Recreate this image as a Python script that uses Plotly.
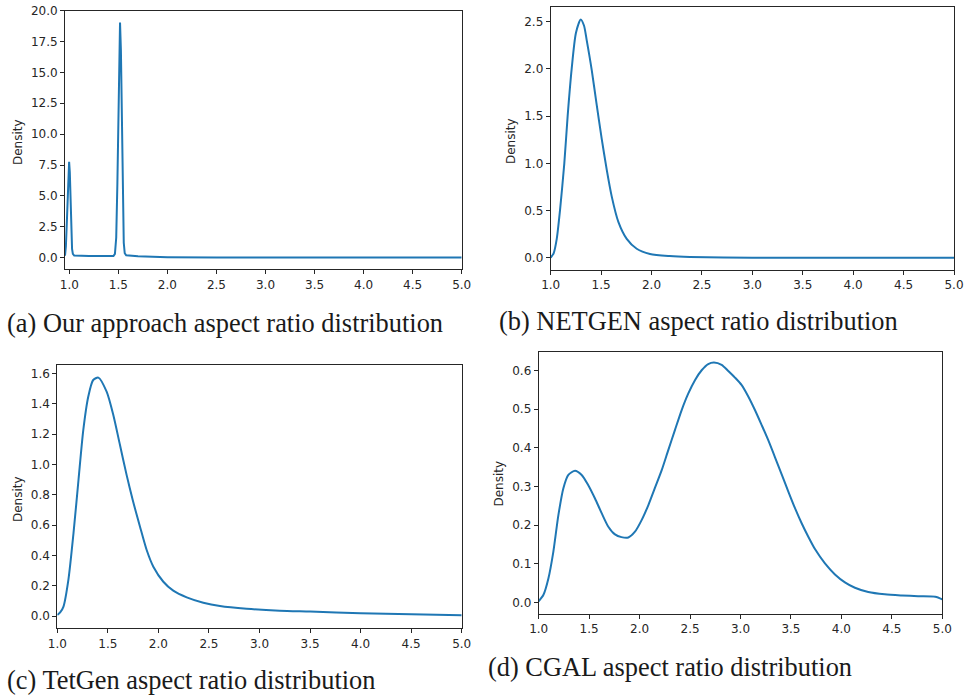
import plotly.graph_objects as go

W, H = 964, 696

# ---------------- data ----------------
a_x = [0.956, 0.965, 0.975, 0.985, 0.992, 0.998, 1.005, 1.012, 1.02, 1.028, 1.036, 1.05,
       1.2, 1.35, 1.45, 1.465, 1.478, 1.49, 1.5, 1.508, 1.517, 1.526, 1.535, 1.545, 1.555,
       1.565, 1.58, 1.7, 1.85, 2.0, 2.5, 3.0, 4.0, 5.0]
a_y = [0.15, 0.9, 2.9, 5.8, 7.2, 7.75, 6.9, 4.6, 2.0, 0.7, 0.3, 0.16,
       0.13, 0.11, 0.12, 0.3, 1.6, 6.0, 11.5, 16.5, 19.05, 16.8, 11.0, 4.8, 1.2,
       0.35, 0.18, 0.1, 0.06, 0.035, 0.012, 0.005, 0.001, 0.0]

b_x = [1.0, 1.03, 1.06, 1.092, 1.135, 1.168, 1.208, 1.25, 1.2975, 1.33, 1.357, 1.407, 1.452,
       1.506, 1.556, 1.605, 1.671, 1.754, 1.853, 1.985, 2.18, 2.38, 3.0, 4.0, 5.0]
b_y = [0.0, 0.05, 0.2, 0.5, 1.0, 1.5, 2.0, 2.38, 2.525, 2.46, 2.306, 1.988, 1.65,
       1.26, 0.93, 0.65, 0.38, 0.2, 0.095, 0.04, 0.018, 0.008, 0.0, 0.0, 0.0]

c_x = [1.0, 1.03, 1.06, 1.11, 1.16, 1.21, 1.257, 1.306, 1.355, 1.406, 1.488, 1.554, 1.62,
       1.686, 1.746, 1.818, 1.884, 1.95, 2.049, 2.147, 2.28, 2.444, 2.609, 2.873, 3.2, 3.5,
       4.0, 4.5, 5.0]
c_y = [0.007, 0.025, 0.06, 0.24, 0.545, 0.9, 1.226, 1.446, 1.556, 1.572, 1.479, 1.325, 1.127,
       0.929, 0.765, 0.589, 0.435, 0.325, 0.226, 0.167, 0.123, 0.088, 0.066, 0.048, 0.035, 0.029,
       0.018, 0.011, 0.005]

d_x = [1.0, 1.046, 1.096, 1.145, 1.195, 1.244, 1.294, 1.36, 1.426, 1.49, 1.558, 1.624, 1.69,
       1.756, 1.82, 1.888, 1.954, 2.02, 2.087, 2.15, 2.22, 2.285, 2.35, 2.417, 2.483, 2.55,
       2.615, 2.68, 2.737, 2.813, 2.879, 2.945, 3.01, 3.077, 3.143, 3.21, 3.275, 3.34, 3.41,
       3.474, 3.54, 3.606, 3.672, 3.738, 3.837, 3.936, 4.035, 4.134, 4.266, 4.43, 4.6, 4.76,
       4.93, 5.0]
d_y = [0.003, 0.019, 0.062, 0.131, 0.226, 0.295, 0.33, 0.341, 0.33, 0.304, 0.269, 0.231, 0.196,
       0.176, 0.169, 0.168, 0.183, 0.213, 0.252, 0.295, 0.343, 0.395, 0.446, 0.498, 0.541, 0.576,
       0.601, 0.617, 0.621, 0.615, 0.599, 0.582, 0.563, 0.533, 0.498, 0.459, 0.42, 0.377, 0.33,
       0.287, 0.244, 0.205, 0.17, 0.138, 0.101, 0.0725, 0.052, 0.038, 0.027, 0.021, 0.018, 0.016,
       0.0147, 0.008]

x_ticks = [1.0, 1.5, 2.0, 2.5, 3.0, 3.5, 4.0, 4.5, 5.0]
a_yticks = [0.0, 2.5, 5.0, 7.5, 10.0, 12.5, 15.0, 17.5, 20.0]
b_yticks = [0.0, 0.5, 1.0, 1.5, 2.0, 2.5]
c_yticks = [0.0, 0.2, 0.4, 0.6, 0.8, 1.0, 1.2, 1.4, 1.6]
d_yticks = [0.0, 0.1, 0.2, 0.3, 0.4, 0.5, 0.6]

captions = ["(a) Our approach aspect ratio distribution",
            "(b) NETGEN aspect ratio distribution",
            "(c) TetGen aspect ratio distribution",
            "(d) CGAL aspect ratio distribution"]
y_label = "Density"

# ---------------- layout geometry (pixels) ----------------
panels = [
    # left, right, top, bottom, xrange, yrange
    (65.0, 461.7, 10.7, 269.3, [0.956, 5.0], [-0.95, 20.0]),
    (550.7, 954.0, 7.3, 270.0, [1.0, 5.0], [-0.13, 2.653]),
    (57.3, 461.7, 365.0, 628.3, [1.0, 5.0], [-0.081, 1.655]),
    (538.7, 942.3, 351.7, 614.0, [1.0, 5.0], [-0.030, 0.649]),
]
series = [(a_x, a_y, a_yticks, "linear"), (b_x, b_y, b_yticks, "spline"),
          (c_x, c_y, c_yticks, "spline"), (d_x, d_y, d_yticks, "spline")]
ylabel_pos = [(18, 142), (511, 141), (18, 499), (498.5, 484)]
caption_pos = [(5, 323), (497, 321.5), (5, 679.5), (486, 666.5)]

LINE = "#1f77b4"
FRAME = "#262626"
TICKFONT = dict(family="DejaVu Sans", size=12, color="#262626")

fig = go.Figure()
layout = dict(width=W, height=H, margin=dict(l=0, r=0, t=0, b=0, autoexpand=False),
              paper_bgcolor="white", plot_bgcolor="white", showlegend=False)
annotations = []

for i, ((l, r, t, b, xr, yr), (xs, ys, yt, shape)) in enumerate(zip(panels, series)):
    n = "" if i == 0 else str(i + 1)
    fig.add_trace(go.Scatter(x=xs, y=ys, mode="lines", xaxis="x" + n, yaxis="y" + n,
                             line=dict(color=LINE, width=2, shape=shape, smoothing=0.7),
                             hoverinfo="skip"))
    common = dict(showline=True, linecolor=FRAME, linewidth=1, mirror=True, showgrid=False,
                  zeroline=False, ticks="outside", ticklen=4, tickwidth=1, tickcolor=FRAME,
                  tickfont=TICKFONT, tickformat=".1f", automargin=False, fixedrange=True)
    layout["xaxis" + n] = dict(domain=[l / W, r / W], range=xr, anchor="y" + n,
                               tickvals=x_ticks, **common)
    layout["yaxis" + n] = dict(domain=[1 - b / H, 1 - t / H], range=yr, anchor="x" + n,
                               tickvals=yt, **common)
    lx, ly = ylabel_pos[i]
    annotations.append(dict(text=y_label, x=lx / W, y=1 - ly / H, xref="paper", yref="paper",
                            showarrow=False, textangle=-90, xanchor="center", yanchor="middle",
                            font=dict(family="DejaVu Sans", size=12, color="#262626")))
    cx, cy = caption_pos[i]
    annotations.append(dict(text=captions[i], x=cx / W, y=1 - cy / H, xref="paper", yref="paper",
                            showarrow=False, xanchor="left", yanchor="middle",
                            font=dict(family="Liberation Serif", size=26.4, color="#1a1a1a")))

layout["annotations"] = annotations
fig.update_layout(**layout)
fig.write_html("out.html", config={"displayModeBar": False},
               post_script="document.body.style.margin='0px';"
                           "document.body.style.overflow='hidden';")
